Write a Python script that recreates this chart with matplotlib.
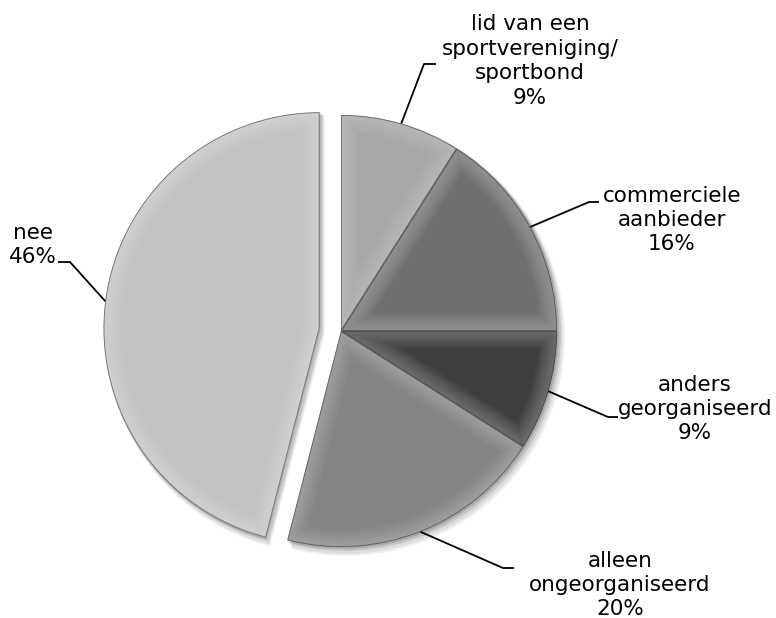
import math
import matplotlib
matplotlib.use("Agg")
import matplotlib.pyplot as plt
import matplotlib.patches as mpatches

# deelname aan sport, aandeel per categorie (%)
labels = ["lid van een\nsportvereniging/\nsportbond", "commerciele\naanbieder",
          "anders\ngeorganiseerd", "alleen\nongeorganiseerd", "nee"]
values = [9, 16, 9, 20, 46]
colors = ["#a7a7a7", "#6f6f6f", "#3e3e3e", "#848484", "#c3c3c3"]
explode = [0, 0, 0, 0, 0.1]

W, H = 776, 618
CX, CY, R = 341, 331, 216   # pie centre and radius in pixels


def px(x, y):
    """pixel position -> data units (pie radius = 1)"""
    return (x - CX) / R, (CY - y) / R


# label text centre and leader elbow, in pixels
label_pos = [(530, 61), (672, 220), (695, 409), (620, 585), (33, 245)]
elbow_pos = [(424, 64), (589, 202), (608, 417), (503, 568), (70, 262)]
text_edge = [(436, 64), (599, 202), (618, 417), (514, 568), (58, 262)]

fig = plt.figure(figsize=(W / 100, H / 100), dpi=100)
ax = fig.add_axes([0, 0, 1, 1])

wedges, _ = ax.pie(values, colors=colors, startangle=90, counterclock=False,
                   explode=explode, radius=1, center=(0, 0),
                   wedgeprops=dict(linewidth=0))

ax.set_xlim(-CX / R, (W - CX) / R)
ax.set_ylim(-(H - CY) / R, CY / R)
ax.set_aspect("equal")
ax.axis("off")

for w in wedges:
    w.set_zorder(3)
    cx, cy = w.center
    # soft drop shadow
    for dx, dy, grow, a in [(5, -6, 3, 0.08), (4, -5, 2, 0.12),
                            (3, -3, 1, 0.18), (1, -1, 1, 0.25)]:
        sh = mpatches.Wedge((cx + dx / R, cy + dy / R), w.r + grow / R,
                            w.theta1, w.theta2, facecolor="#555555",
                            edgecolor="none", alpha=a, zorder=1)
        ax.add_patch(sh)
    # bevel: light glow along the inner edges, clipped to the slice
    for lw in range(26, 1, -2):
        glow = mpatches.Wedge((cx, cy), w.r, w.theta1, w.theta2,
                              facecolor="none", edgecolor="white",
                              linewidth=lw, alpha=0.022, zorder=4)
        ax.add_patch(glow)
        glow.set_clip_path(w)
    rim = mpatches.Wedge((cx, cy), w.r, w.theta1, w.theta2,
                         facecolor="none", edgecolor="#333333",
                         linewidth=1.2, alpha=0.6, zorder=5)
    ax.add_patch(rim)
    rim.set_clip_path(w)

for w, lab, val, tp, ep, te in zip(wedges, labels, values, label_pos,
                                   elbow_pos, text_edge):
    cx, cy = w.center
    mid = math.radians((w.theta1 + w.theta2) / 2)
    edge = (cx + w.r * math.cos(mid), cy + w.r * math.sin(mid))
    ex, ey = px(*ep)
    tx, ty = px(*te)
    ax.plot([edge[0], ex, tx], [edge[1], ey, ty], color="black",
            linewidth=1.3, zorder=6, solid_capstyle="butt")
    lx, ly = px(*tp)
    ax.text(lx, ly, f"{lab}\n{val}%", ha="center", va="center",
            fontsize=15.5, family="DejaVu Sans", linespacing=1.28, zorder=7)

fig.savefig("out.png", dpi=100, facecolor="white")
